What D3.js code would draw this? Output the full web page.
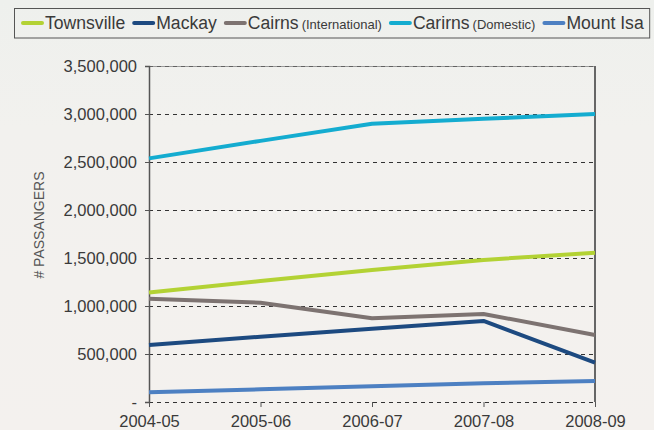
<!DOCTYPE html>
<html><head><meta charset="utf-8">
<script src="https://cdn.jsdelivr.net/npm/d3@7"></script>
<style>
html,body{margin:0;padding:0;background:#f3f1ee;}
svg{display:block;font-family:"Liberation Sans",Arial,sans-serif;}
</style></head>
<body>
<svg id="chart" width="654" height="430"></svg>
<script>
const categories = ["2004-05","2005-06","2006-07","2007-08","2008-09"];
const townsville = [1140000,1260000,1375000,1480000,1555000];
const mackay = [594000,680000,764000,844000,410000];
const cairnsIntl = [1076000,1034000,872000,917000,698000];
const cairnsDom = [2538000,2720000,2899000,2950000,3000000];
const mountIsa = [101000,132000,163000,195000,219000];
const yTicks = [0,500000,1000000,1500000,2000000,2500000,3000000,3500000];

const series = [
  {name:"Townsville", sub:"", values:townsville, color:"#b3d234"},
  {name:"Mackay", sub:"", values:mackay, color:"#1d4a80"},
  {name:"Cairns", sub:"(International)", values:cairnsIntl, color:"#7d7371"},
  {name:"Carirns", sub:"(Domestic)", values:cairnsDom, color:"#14acd0"},
  {name:"Mount Isa", sub:"", values:mountIsa, color:"#4d80c2"}
];

const svg = d3.select("#chart");
const W = 654, H = 430;
const m = {left:149, right:59, top:66, bottom:28};
const txt = "#3a3a3a";

const defs = svg.append("defs");
const g = defs.append("linearGradient").attr("id","bg").attr("x1",0).attr("y1",0).attr("x2",0).attr("y2",1);
g.append("stop").attr("offset","0").attr("stop-color","#eef0ed");
g.append("stop").attr("offset","0.3").attr("stop-color","#f2f1ee");
g.append("stop").attr("offset","1").attr("stop-color","#f4f1ee");
svg.append("rect").attr("width",W).attr("height",H).attr("fill","url(#bg)");

const x = d3.scalePoint().domain(categories).range([m.left, W - m.right]);
const y = d3.scaleLinear().domain([0,3500000]).range([H - m.bottom, m.top]);

// gridlines
svg.append("g").selectAll("line").data(yTicks).join("line")
  .attr("x1", m.left).attr("x2", W - m.right)
  .attr("y1", d => y(d)).attr("y2", d => y(d))
  .attr("stroke","#333").attr("stroke-width",1).attr("stroke-dasharray","4,4")
  .attr("shape-rendering","crispEdges");

// top & right frame
svg.append("line").attr("x1",m.left).attr("x2",W-m.right).attr("y1",y(3500000)).attr("y2",y(3500000))
  .attr("stroke","#777").attr("stroke-width",1).attr("opacity",0.7).attr("shape-rendering","crispEdges");
svg.append("line").attr("x1",W-m.right).attr("x2",W-m.right).attr("y1",y(3500000)).attr("y2",y(0))
  .attr("stroke","#666").attr("stroke-width",1.5).attr("shape-rendering","crispEdges");

// y axis
const yAxis = svg.append("g").attr("transform",`translate(${m.left},0)`)
  .call(d3.axisLeft(y).tickValues(yTicks).tickSize(4).tickPadding(8)
    .tickFormat(d => d === 0 ? "-" : d3.format(",")(d)));
yAxis.select(".domain").attr("stroke","#555").attr("stroke-width",1.5);
yAxis.selectAll(".tick line").attr("stroke","#555");
yAxis.selectAll("text").attr("font-size","16.5px").attr("fill",txt)
  .attr("font-family",'"Liberation Sans",Arial,sans-serif');

// x axis
const xAxis = svg.append("g").attr("transform",`translate(0,${y(0)})`)
  .call(d3.axisBottom(x).tickSize(5).tickPadding(8));
xAxis.select(".domain").remove();
xAxis.selectAll(".tick line").attr("stroke","#555");
xAxis.selectAll("text").attr("font-size","16.5px").attr("fill",txt)
  .attr("font-family",'"Liberation Sans",Arial,sans-serif');

// y label
svg.append("text").attr("transform","translate(44,225) rotate(-90)")
  .attr("text-anchor","middle").attr("font-size","14px").attr("fill","#555")
  .text("# PASSANGERS");

// lines
const line = d3.line().x((d,i) => x(categories[i])).y(d => y(d));
svg.append("g").selectAll("path").data(series).join("path")
  .attr("d", d => line(d.values))
  .attr("fill","none").attr("stroke", d => d.color).attr("stroke-width",4)
  .attr("stroke-linejoin","round");

// legend
const leg = svg.append("g");
const box = leg.append("rect").attr("x",14.5).attr("y",8.5).attr("height",29.5)
  .attr("fill","none").attr("stroke","#555").attr("stroke-width",1);
let cx = 21;
series.forEach(s => {
  leg.append("line").attr("x1",cx+2).attr("x2",cx+21).attr("y1",23).attr("y2",23)
    .attr("stroke",s.color).attr("stroke-width",4).attr("stroke-linecap","round");
  cx += 24;
  const t = leg.append("text").attr("x",cx).attr("y",29).attr("fill",txt)
    .attr("font-size","17.6px");
  t.append("tspan").text(s.name);
  if (s.sub) t.append("tspan").attr("font-size","13px").attr("dx",3).text(s.sub);
  cx += t.node().getComputedTextLength() + (s.sub ? 3 : 0) + 7;
});
box.attr("width", cx - 14.5 - 1);
</script>
</body></html>
